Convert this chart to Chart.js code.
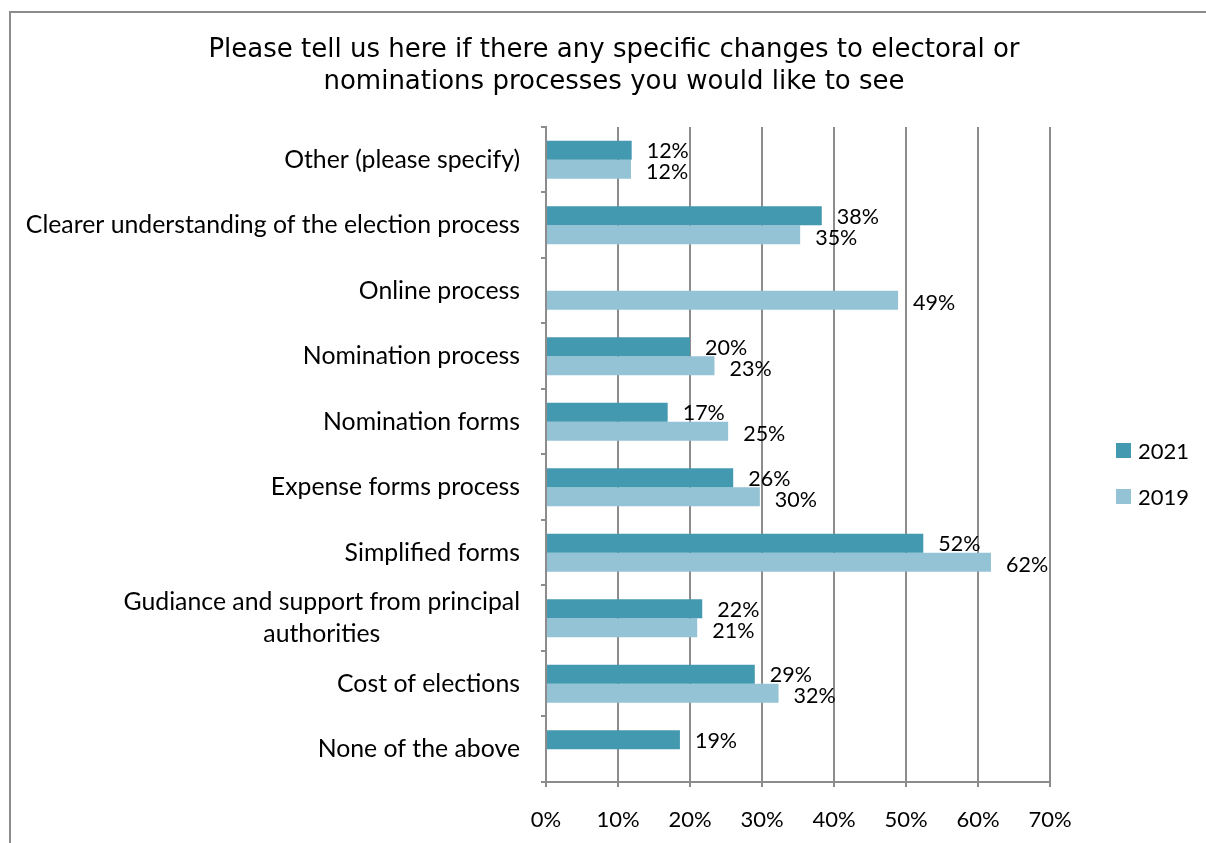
<!DOCTYPE html>
<html>
<head>
<meta charset="utf-8">
<script src="https://cdn.jsdelivr.net/npm/chart.js@4"></script>
<style>
  html, body { margin: 0; padding: 0; background: #fff; overflow: hidden; }
  #frame { position: absolute; left: 9px; top: 11px; width: 1400px; height: 1000px; border: 2px solid #8c8c8c; box-sizing: border-box; }
  #wrap { position: absolute; left: 0; top: 0; width: 1206px; height: 843px; }
  #legend { position: absolute; left: 1116px; top: 437px; font-family: Lato, "Open Sans", sans-serif; font-size: 22px; color: #000; }
  #legend .item { display: flex; align-items: center; height: 26px; margin-bottom: 20px; }
  #legend .box { width: 15px; height: 15px; margin-right: 7px; }
</style>
</head>
<body>
<div id="frame"></div>
<div id="wrap"><canvas id="myChart" width="1206" height="843"></canvas></div>
<div id="legend"></div>
<script>
const categories = [
    'Other (please specify)',
    'Clearer understanding of the election process',
    'Online process',
    'Nomination process',
    'Nomination forms',
    'Expense forms process',
    'Simplified forms',
    ['Gudiance and support from principal', 'authorities'],
    'Cost of elections',
    'None of the above'
];
const values2021 = [11.9, 38.3, null, 20.0, 16.9, 26.0, 52.4, 21.7, 29.0, 18.6];
const values2019 = [11.8, 35.3, 48.9, 23.4, 25.3, 29.7, 61.8, 21.0, 32.3, null];
const xTicks = [0, 10, 20, 30, 40, 50, 60, 70];
const titleLines = [
    'Please tell us here if there any specific changes to electoral or',
    'nominations processes you would like to see'
];

const gridColor = '#8c8c8c';

// labels at the end of each bar
const barLabels = {
    id: 'barLabels',
    afterDatasetsDraw(chart) {
        const ctx = chart.ctx;
        ctx.save();
        ctx.font = '21.5px Lato, "Open Sans", sans-serif';
        ctx.fillStyle = '#000';
        ctx.textAlign = 'left';
        ctx.textBaseline = 'middle';
        chart.data.datasets.forEach((ds, i) => {
            const meta = chart.getDatasetMeta(i);
            const dy = i === 0 ? 1 : 3;
            meta.data.forEach((bar, j) => {
                const v = ds.data[j];
                if (v === null) return;
                ctx.fillText(Math.round(v) + '%', bar.x + 15, bar.y + dy);
            });
        });
        ctx.restore();
    }
};

const ctx = document.getElementById('myChart').getContext('2d');
const chart = new Chart(ctx, {
    type: 'bar',
    data: {
        labels: categories,
        datasets: [{
            label: '2021',
            data: values2021,
            backgroundColor: '#4399b0'
        }, {
            label: '2019',
            data: values2019,
            backgroundColor: '#93c3d5'
        }]
    },
    options: {
        indexAxis: 'y',
        responsive: false,
        animation: false,
        categoryPercentage: 0.58,
        barPercentage: 1.0,
        layout: { padding: { left: 22, right: 0, top: 0, bottom: 0 } },
        plugins: {
            legend: { display: false },
            tooltip: { enabled: false },
            title: {
                display: true,
                text: titleLines,
                color: '#000',
                font: { family: '"DejaVu Sans", sans-serif', size: 26, weight: 'normal', lineHeight: 1.23 },
                padding: { top: 34, bottom: 29 }
            }
        },
        scales: {
            x: {
                min: 0,
                max: 70,
                afterBuildTicks: (scale) => {
                    scale.ticks = xTicks.map(v => ({ value: v }));
                },
                afterFit: (scale) => {
                    scale.height = 61;
                    scale.paddingRight = 156;
                },
                ticks: {
                    color: '#000',
                    padding: 20,
                    font: { family: 'Lato, sans-serif', size: 22 },
                    callback: (v) => v + '%'
                },
                grid: { color: gridColor, lineWidth: 2, tickLength: 5 },
                border: { color: gridColor, width: 2 }
            },
            y: {
                afterFit: (scale) => { scale.width = 524; },
                ticks: {
                    color: '#000',
                    padding: 21,
                    autoSkip: false,
                    font: { family: 'Lato, sans-serif', size: 24.8, lineHeight: 1.3 },
                    callback: function (value) {
                        const label = categories[value];
                        if (Array.isArray(label)) {
                            // centre the second line under the first one
                            const w1 = label[0].length, w2 = label[1].length;
                            return [label[0], label[1] + '\u00a0'.repeat(w1 - w2 - 2)];
                        }
                        return label;
                    }
                },
                grid: { display: true, drawOnChartArea: false, color: gridColor, lineWidth: 2, tickLength: 5, offset: true },
                border: { color: gridColor, width: 2 }
            }
        }
    },
    plugins: [barLabels]
});

// legend from the chart datasets
const legendEl = document.getElementById('legend');
chart.data.datasets.forEach(ds => {
    const item = document.createElement('div');
    item.className = 'item';
    const box = document.createElement('span');
    box.className = 'box';
    box.style.background = ds.backgroundColor;
    const txt = document.createElement('span');
    txt.textContent = ds.label;
    item.appendChild(box);
    item.appendChild(txt);
    legendEl.appendChild(item);
});
</script>
</body>
</html>
